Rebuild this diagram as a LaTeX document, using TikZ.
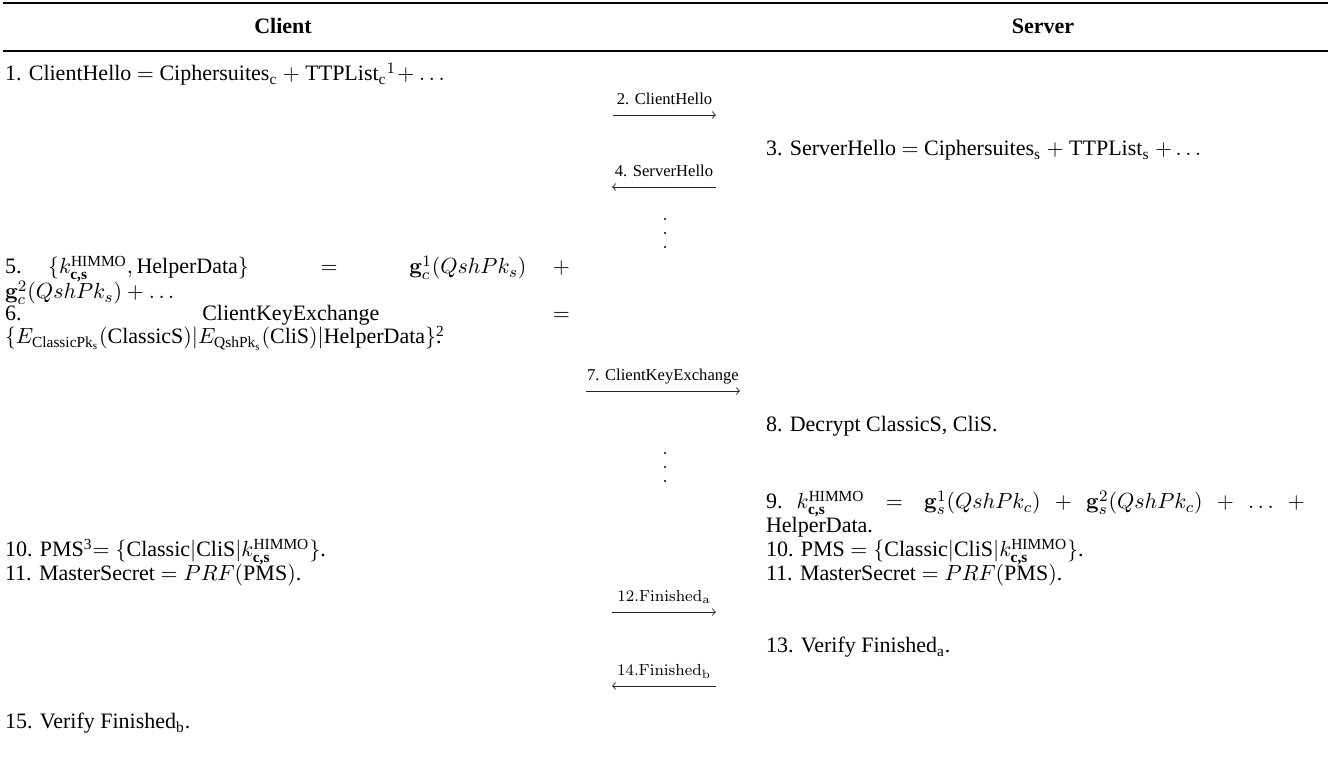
\documentclass[tikz,border=0pt]{standalone}
\usepackage{amsmath}
\usepackage[no-math]{fontspec}
\setmainfont{Liberation Serif}
\newcommand\mainsz{\fontsize{11}{12}\selectfont}
\newcommand\lblsz{\fontsize{8.3}{9}\selectfont}
\newcommand\kh{k^{\text{HIMMO}}_{\text{\textbf{c,s}}}}
\newcommand\fl[1]{\hskip 0pt plus #1fil\relax}
\begin{document}
\begin{tikzpicture}[x=0.5pt,y=-0.5pt,
  every node/.style={inner sep=0pt,outer sep=0pt,font=\mainsz},
  txt/.style={anchor=base west},
  hdr/.style={anchor=base,font=\mainsz\bfseries},
  msg/.style={->,line width=0.45pt,draw=black!85},
  lbl/.style={anchor=base,yshift=5pt,font=\lblsz}]
\useasboundingbox (0,0) rectangle (1330,780);
% rules
\draw[line width=1.1pt] (3,3) -- (1328,3);
\draw[line width=0.8pt] (3,51) -- (1328,51);
% header
\node[hdr] (hc) at (283,34) {Client};
\node[hdr] (hs) at (1043,34) {Server};
% rows
\node[txt] (r1) at (5,81) {1. ClientHello $=$ Ciphersuites$_{\text{c}}$ $+$ TTPList$_{\text{c}}{}^{1}\!+\ldots$};
\coordinate (a2s) at (613,115); \coordinate (a2e) at (716,115);
\draw[msg] (a2s) -- node[lbl] (l2) {2. ClientHello} (a2e);
\node[txt] (r3) at (766,156) {3. ServerHello $=$ Ciphersuites$_{\text{s}}$ $+$ TTPList$_{\text{s}}$ $+\ldots$};
\coordinate (a4s) at (716,187); \coordinate (a4e) at (612,187);
\draw[msg] (a4s) -- node[lbl] (l4) {4. ServerHello} (a4e);
\foreach \yy in {219,233,247} \fill (665,\yy) circle (1.2);
\node[txt] (r5a) at (5,274) {\hbox to 282.5pt{5.\fl1$\{\kh,\text{HelperData}\}$\fl{2.7}$=$\fl{2.7}$\mathbf{g}_c^1(QshPk_s)$\fl1$+$}};
\node[txt] (r5b) at (5,299) {$\mathbf{g}_c^2(QshPk_s)+\ldots$};
\node[txt] (r6a) at (5,321) {\hbox to 282.5pt{6.\fl1 ClientKeyExchange\fl1$=$}};
\node[txt] (r6b) at (5,344) {$\{E_{\text{ClassicPk}_{\text{s}}}(\text{ClassicS})|E_{\text{QshPk}_{\text{s}}}(\text{CliS})|\text{HelperData}\}$\rlap{\textsuperscript{2}}.};
\coordinate (a7s) at (586,391); \coordinate (a7e) at (740,391);
\draw[msg] (a7s) -- node[lbl] (l7) {7. ClientKeyExchange} (a7e);
\node[txt] (r8) at (766,432) {8. Decrypt ClassicS, CliS.};
\foreach \yy in {453,467,481} \fill (665,\yy) circle (1.2);
\node[txt] (r9a) at (766,509) {\hbox to 269.5pt{9.\fl1$\kh$\fl{1.5}$=$\fl{1.5}$\mathbf{g}_s^1(QshPk_c)$\fl1$+$\fl1$\mathbf{g}_s^2(QshPk_c)$\fl1$+$\fl1$\ldots$\fl1$+$}};
\node[txt] (r9b) at (766,533) {HelperData.};
\node[txt] (r10c) at (5,557) {10. PMS\textsuperscript{3}$=\{\text{Classic}|\text{CliS}|\kh\}$.};
\node[txt] (r10s) at (766,557) {10. PMS $=\{\text{Classic}|\text{CliS}|\kh\}$.};
\node[txt] (r11c) at (5,581) {11. MasterSecret $=PRF(\text{PMS})$.};
\node[txt] (r11s) at (766,581) {11. MasterSecret $=PRF(\text{PMS})$.};
\coordinate (a12s) at (612,612); \coordinate (a12e) at (716,612);
\draw[msg] (a12s) -- node[lbl] (l12) {$\mathrm{12.Finished}_{\mathrm{a}}$} (a12e);
\node[txt] (r13) at (766,653) {13. Verify Finished$_{\text{a}}$.};
\coordinate (a14s) at (716,686); \coordinate (a14e) at (612,686);
\draw[msg] (a14s) -- node[lbl] (l14) {$\mathrm{14.Finished}_{\mathrm{b}}$} (a14e);
\node[txt] (r15) at (5,729) {15. Verify Finished$_{\text{b}}$.};
\end{tikzpicture}
\end{document}
